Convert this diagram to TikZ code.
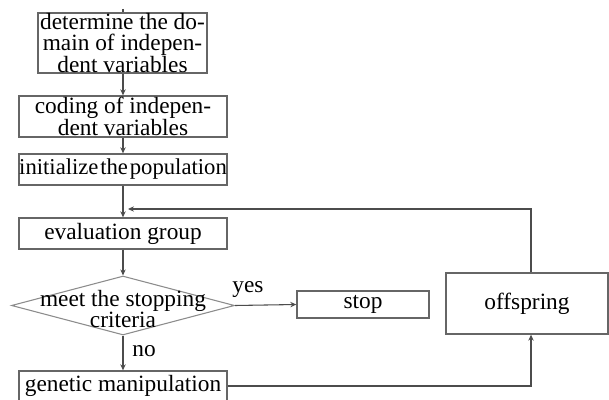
\documentclass[tikz,border=0pt]{standalone}
\usepackage{fontspec}
\setmainfont{Liberation Serif}
\usetikzlibrary{shapes.geometric,arrows.meta,calc}
\begin{document}
\begin{tikzpicture}[x=0.75pt,y=-0.75pt,
  box/.style={draw=black!60,line width=1pt,rectangle,inner sep=0pt,align=center,
    font=\fontsize{17.5}{15.75}\selectfont},
  lbl/.style={inner sep=0pt,font=\fontsize{17.5}{15.75}\selectfont},
  arr/.style={draw=black!70,line width=0.8pt,-{Stealth[length=4.5pt,width=4pt]}},
  ln/.style={draw=black!70,line width=0.8pt}]
\useasboundingbox (0,0) rectangle (609,399);
\clip (0,0) rectangle (609,399);
\fill[white] (0,0) rectangle (609,399);
\node[box,minimum width=126.75pt,minimum height=45pt] (b1) at (122.5,43)
  {determine the do-\\main of indepen-\\dent variables};
\node[box,minimum width=156pt,minimum height=30.75pt] (b2) at (123,116.5)
  {coding of indepen-\\dent variables};
\node[box,minimum width=156pt,minimum height=23.25pt,font=\fontsize{17}{15}\selectfont] (b3) at (123,169.5)
  {initialize\hspace{0.08em}the\hspace{0.08em}population};
\node[box,minimum width=156pt,minimum height=23.25pt] (ev) at (123,233.5)
  {evaluation group};
\node[draw=black!45,line width=0.8pt,shape=diamond,inner sep=0pt,minimum width=167.25pt,minimum height=44.25pt] (dec) at (123,305.5) {};
\node[lbl,align=center,font=\fontsize{17.5}{11.5}\selectfont] (dect) at (123,309) {meet the stopping\\criteria};
\node[box,minimum width=99pt,minimum height=20.25pt] (stop) at (363,304.5) {stop};
\node[box,minimum width=121.5pt,minimum height=45.75pt] (off) at (527,303.5) {offspring};
\node[box,minimum width=156pt,minimum height=22.5pt] (gm) at (123,386) {genetic manipulation};
\node[lbl] (yes) at (248,290) {yes};
\node[lbl] (no) at (144,351) {no};
\coordinate (top) at (123,9);
\coordinate (vx) at (531,0);
\coordinate (fb) at (128,209);
\draw[ln] (top) -- (b1.north -| top);
\draw[arr] (b1.south -| top) -- (b2.north);
\draw[arr] (b2.south) -- (b3.north);
\draw[arr] (b3.south) -- (ev.north);
\draw[arr] (ev.south) -- (dec.north);
\draw[arr] (dec.south) -- (gm.north);
\draw[arr] (dec.east) -- (stop.west);
\draw[arr] (gm.east) -| (vx |- off.south);
\draw[arr] (vx |- off.north) |- (fb);
\end{tikzpicture}
\end{document}
